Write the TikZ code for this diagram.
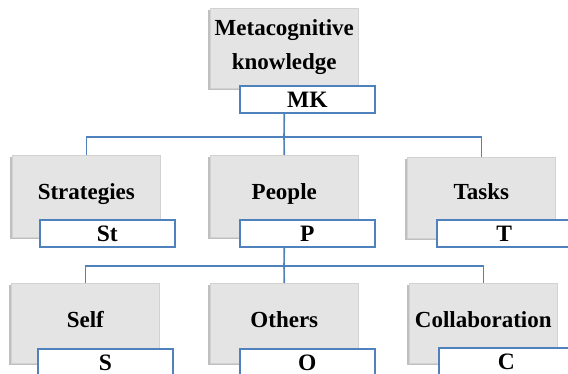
\documentclass[tikz,border=0pt]{standalone}
\usepackage{fontspec}
\setmainfont{Liberation Serif}
\usetikzlibrary{shadows}
\definecolor{lblue}{HTML}{4F81BD}
\definecolor{boxgray}{HTML}{E4E4E4}
\tikzset{
  gbox/.style={draw=gray!35, line width=0.6pt, fill=boxgray, minimum width=148pt, minimum height=82pt,
    anchor=north west, inner sep=0pt,
    drop shadow={shadow xshift=-2pt, shadow yshift=-2pt, fill=gray!50, opacity=1}},
  lbox/.style={draw=lblue, line width=1.6pt, fill=white, minimum width=135pt, minimum height=27pt,
    anchor=north west, inner sep=0pt, text height=16pt, text depth=0pt,
    font=\fontsize{23.5}{28}\selectfont\bfseries},
  txt/.style={font=\fontsize{23}{28}\selectfont\bfseries, anchor=base, inner sep=0pt},
  conn/.style={draw=lblue, line width=1.6pt}
}
\begin{document}
\begin{tikzpicture}[x=1pt,y=-1pt]
\path[use as bounding box] (0,0) rectangle (568,374);
\clip (0,0) rectangle (568,374);
% top
\node[gbox, minimum height=80pt] (mkg) at (210,8) {};
\node[txt] (mkt1) at ([yshift=-28pt]mkg.north) {Metacognitive};
\node[txt] (mkt2) at ([yshift=-62pt]mkg.north) {knowledge};
\node[lbox] (mk) at (239,85) {MK};
% row 1
\node[gbox] (stg) at (12,155) {};
\node[txt] (stt) at ([yshift=-45pt]stg.north) {Strategies};
\node[lbox] (st) at (39,219) {St};
\node[gbox] (peg) at (210,155) {};
\node[txt] (pet) at ([yshift=-45pt]peg.north) {People};
\node[lbox] (p) at (239,219) {P};
\node[gbox, minimum height=81pt] (tkg) at (407,157) {};
\node[txt] (tkt) at ([yshift=-43pt]tkg.north) {Tasks};
\node[lbox] (t) at (436,219) {T};
% row 2
\node[gbox, minimum height=80pt] (sfg) at (11,283) {};
\node[txt] (sft) at ([yshift=-44pt]sfg.north) {Self};
\node[lbox] (s) at (37,348) {S};
\node[gbox, minimum height=80pt] (otg) at (210,283) {};
\node[txt] (ott) at ([yshift=-44pt]otg.north) {Others};
\node[lbox] (o) at (239,348) {O};
\node[gbox, minimum height=80pt] (clg) at (409,283) {};
\node[txt] (clt) at ([yshift=-44pt]clg.north) {Collaboration};
\node[lbox] (c) at (438,347) {C};
% connectors
\coordinate (b1) at (284,137);
\coordinate (b2) at (284,266);
\draw[conn] (mkg.south |- mk.south) -- (b1);
\draw[conn] (stg.north) |- (b1) -| (tkg.north);
\draw[conn] (peg.north) -- (b1);
\draw[conn] (peg.south |- p.south) -- (b2);
\draw[conn] (sfg.north) |- (b2) -| (clg.north);
\draw[conn] (otg.north) -- (b2);
\end{tikzpicture}
\end{document}
